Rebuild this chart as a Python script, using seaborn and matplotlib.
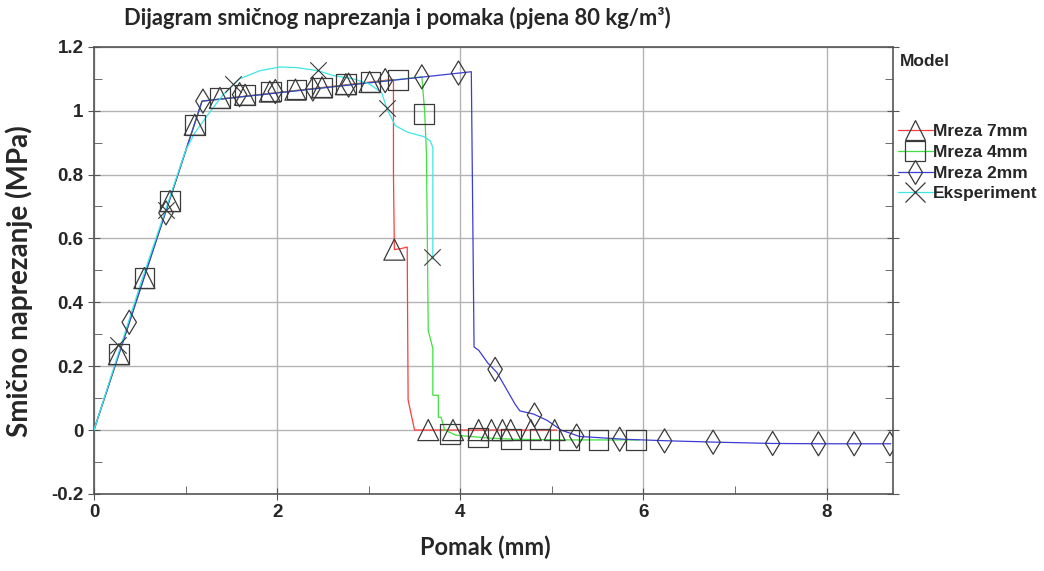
import numpy as np
import pandas as pd
import seaborn as sns
import matplotlib.pyplot as plt
from matplotlib.lines import Line2D
from matplotlib.ticker import MultipleLocator

# --- data (pomak mm, naprezanje MPa) ---
x_7mm = [0, 1.18, 3.27, 3.27, 3.28, 3.35, 3.42, 3.43, 3.50, 5.05]
y_7mm = [0, 1.03, 1.098, 0.80, 0.565, 0.568, 0.573, 0.094, 0.0, 0.0]
mx_7mm = [0.273, 0.55, 0.83, 1.10, 1.375, 1.65, 1.92, 2.20, 2.49, 2.75, 3.01, 3.28,
          3.65, 3.92, 4.20, 4.34, 4.46, 4.55, 4.77, 5.03]
my_7mm = [0.2375, 0.476, 0.717, 0.956, 1.04, 1.05, 1.06, 1.066, 1.073, 1.083, 1.09, 0.565,
          0.0, 0.0, 0.0, 0.0, 0.0, 0.0, 0.0, 0.0]

x_4mm = [0, 1.18, 3.58, 3.61, 3.63, 3.65, 3.67, 3.70, 3.70, 3.76, 3.76, 3.79, 3.83,
         3.95, 4.3, 4.6, 5.2, 5.95]
y_4mm = [0, 1.03, 1.106, 1.0, 0.87, 0.31, 0.29, 0.255, 0.109, 0.109, 0.04, 0.04, 0.0,
         -0.016, -0.025, -0.029, -0.031, -0.031]
mx_4mm = [0.273, 0.55, 0.83, 1.10, 1.375, 1.65, 1.93, 2.21, 2.49, 2.75, 3.02, 3.32, 3.60,
          3.89, 4.19, 4.55, 4.87, 5.19, 5.51, 5.92]
my_4mm = [0.2375, 0.476, 0.717, 0.956, 1.04, 1.05, 1.06, 1.066, 1.073, 1.083, 1.09, 1.096, 0.99,
          -0.013, -0.023, -0.029, -0.029, -0.031, -0.031, -0.031]

x_2mm = [0, 1.18, 4.12, 4.15, 4.20, 4.25, 4.30, 4.40, 4.50, 4.60, 4.65, 4.80, 4.95,
         5.10, 5.30, 5.80, 6.30, 6.80, 7.40, 8.00, 8.70]
y_2mm = [0, 1.03, 1.122, 0.26, 0.25, 0.23, 0.21, 0.18, 0.13, 0.08, 0.06, 0.05, 0.03,
         0.0, -0.02, -0.029, -0.034, -0.038, -0.042, -0.043, -0.043]
mx_2mm = [0.385, 0.786, 1.19, 1.59, 1.98, 2.39, 2.78, 3.18, 3.58, 3.98,
          4.38, 4.81, 5.27, 5.74, 6.23, 6.76, 7.41, 7.91, 8.30, 8.69]
my_2mm = [0.3375, 0.68, 1.03, 1.05, 1.06, 1.068, 1.08, 1.094, 1.106, 1.118,
          0.19, 0.047, -0.019, -0.029, -0.034, -0.038, -0.042, -0.043, -0.043, -0.043]

x_exp = [0, 0.5, 1.0, 1.1, 1.25, 1.41, 1.59, 1.81, 2.03, 2.21, 2.45, 2.61, 2.83, 3.01,
         3.14, 3.20, 3.29, 3.43, 3.60, 3.67, 3.70, 3.70]
y_exp = [0, 0.45, 0.875, 0.93, 0.99, 1.05, 1.10, 1.125, 1.137, 1.135, 1.125, 1.11, 1.10, 1.083,
         1.057, 1.005, 0.953, 0.932, 0.919, 0.906, 0.885, 0.535]
mx_exp = [0.265, 0.79, 1.52, 2.45, 3.20, 3.69]
my_exp = [0.266, 0.69, 1.083, 1.127, 1.008, 0.542]

x_ticks = [0, 2, 4, 6, 8]
y_ticks = [-0.2, 0, 0.2, 0.4, 0.6, 0.8, 1.0, 1.2]
y_ticklabels = ["-0.2", "0", "0.2", "0.4", "0.6", "0.8", "1", "1.2"]

labels = ["Mreza 7mm", "Mreza 4mm", "Mreza 2mm", "Eksperiment"]
colors = ["#ff3b3b", "#3fe03f", "#3c3cd8", "#3fe6e6"]
markers = ["^", "s", "d", "x"]

sns.set_style("white")
plt.rcParams['font.family'] = ['Liberation Sans', 'DejaVu Sans']

fig = plt.figure(figsize=(10.44, 5.71), dpi=100)
ax = fig.add_axes([0.090, 0.135, 0.765, 0.783])

lines = [(x_7mm, y_7mm), (x_4mm, y_4mm), (x_2mm, y_2mm), (x_exp, y_exp)]
marks = [(mx_7mm, my_7mm), (mx_4mm, my_4mm), (mx_2mm, my_2mm), (mx_exp, my_exp)]
sizes = [230, 200, 150, 140]
order = [3, 0, 1, 2]
for i in order:
    lx, ly = lines[i]
    sns.lineplot(x=lx, y=ly, sort=False, estimator=None, color=colors[i],
                 linewidth=0.9, ax=ax, zorder=2 + i)
for i in order:
    px, py = marks[i]
    if markers[i] == "x":
        sns.scatterplot(x=px, y=py, marker="x", s=sizes[i], color="#3a3a3a",
                        linewidth=0.8, ax=ax, zorder=10)
    else:
        sns.scatterplot(x=px, y=py, marker=markers[i], s=sizes[i], facecolor="none",
                        edgecolor="#3a3a3a", linewidth=0.9, ax=ax, zorder=10)

ax.set_xlim(0, 8.72)
ax.set_ylim(-0.2, 1.2)
ax.set_xticks(x_ticks)
ax.xaxis.set_minor_locator(MultipleLocator(1))
ax.set_yticks(y_ticks)
ax.yaxis.set_minor_locator(MultipleLocator(0.1))
ax.grid(True, which="major", color="#b4b4b4", linewidth=1.0)
ax.set_axisbelow(True)
for s in ax.spines.values():
    s.set_color("#555555")
    s.set_linewidth(1.2)
ax.tick_params(which="major", direction="inout", length=8, color="#555555",
               right=True, bottom=True, left=True)
ax.tick_params(which="minor", direction="in", length=6, color="#555555",
               right=True, bottom=True, left=True)
ax.set_xticklabels([str(v) for v in x_ticks])
ax.set_yticklabels(y_ticklabels)
for t in ax.get_yticklabels():
    t.set_fontsize(13.5)
    t.set_fontweight("bold")
for t in ax.get_xticklabels():
    t.set_fontsize(13.5)
    t.set_fontweight("bold")
    t.set_family(['Liberation Sans Narrow', 'Liberation Sans'])

lab_font = ['Lato', 'DejaVu Sans']
ax.set_xlabel("Pomak (mm)", fontsize=17, fontweight="bold", family=lab_font, va="center")
ax.xaxis.set_label_coords(0.49, -0.12)
ax.set_ylabel("Smično naprezanje (MPa)", fontsize=20, fontweight="bold", family=lab_font, va="center")
ax.yaxis.set_label_coords(-0.094, 0.475)
fig.text(0.119, 0.968, "Dijagram smičnog naprezanja i pomaka (pjena 80 kg/m³)", fontsize=15.8,
         fontweight="bold", family=lab_font, va="center", ha="left")

fig.text(0.862, 0.893, "Model", fontsize=12.5, fontweight="bold", va="center", ha="left")
handles = [Line2D([0], [0], color=colors[i], linewidth=0.9, marker=markers[i],
                  markersize=14 if markers[i] != "d" else 12,
                  markerfacecolor="none", markeredgecolor="#3a3a3a", markeredgewidth=0.9)
           for i in range(4)]
leg = fig.legend(handles, labels, loc="upper left", bbox_to_anchor=(0.845, 0.81),
                 frameon=False, handlelength=2.0, handletextpad=0.0, labelspacing=0.32,
                 prop={"weight": "bold", "size": 12.5})

fig.savefig("out.png", dpi=100)
